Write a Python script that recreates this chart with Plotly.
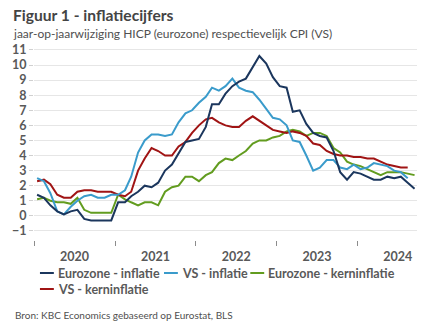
import plotly.graph_objects as go

# Monthly year-on-year inflation rates (%), January 2020 onwards
months = [f"{y}-{m:02d}-15" for y in range(2020, 2025) for m in range(1, 13)]

ez_inflatie = [
    1.4, 1.2, 0.7, 0.3, 0.1, 0.3, 0.4, -0.2, -0.3, -0.3, -0.3, -0.3,
    0.9, 0.9, 1.3, 1.6, 2.0, 1.9, 2.2, 3.0, 3.4, 4.1, 4.9, 5.0,
    5.1, 5.9, 7.4, 7.4, 8.1, 8.6, 8.9, 9.1, 9.9, 10.6, 10.1, 9.2,
    8.6, 8.5, 6.9, 7.0, 6.1, 5.5, 5.3, 5.2, 4.3, 2.9, 2.4, 2.9,
    2.8, 2.6, 2.4, 2.4, 2.6, 2.5, 2.6, 2.2, 1.8,
]
vs_inflatie = [
    2.5, 2.3, 1.5, 0.3, 0.1, 0.6, 1.0, 1.3, 1.4, 1.2, 1.2, 1.4,
    1.4, 1.7, 2.6, 4.2, 5.0, 5.4, 5.4, 5.3, 5.4, 6.2, 6.8, 7.0,
    7.5, 7.9, 8.5, 8.3, 8.6, 9.1, 8.5, 8.3, 8.2, 7.7, 7.1, 6.5,
    6.4, 6.0, 5.0, 4.9, 4.0, 3.0, 3.2, 3.7, 3.7, 3.2, 3.1, 3.4,
    3.1, 3.2, 3.5, 3.4, 3.3, 3.0, 2.9, 2.5,
]
ez_kern = [
    1.1, 1.2, 1.0, 0.9, 0.9, 0.8, 1.2, 0.4, 0.2, 0.2, 0.2, 0.2,
    1.4, 1.1, 0.9, 0.7, 0.9, 0.9, 0.7, 1.6, 1.9, 2.0, 2.6, 2.6,
    2.3, 2.7, 2.9, 3.5, 3.8, 3.7, 4.0, 4.3, 4.8, 5.0, 5.0, 5.2,
    5.3, 5.6, 5.7, 5.6, 5.3, 5.5, 5.5, 5.3, 4.5, 4.2, 3.6, 3.4,
    3.3, 3.1, 2.9, 2.7, 2.9, 2.9, 2.9, 2.8, 2.7,
]
vs_kern = [
    2.3, 2.4, 2.1, 1.4, 1.2, 1.2, 1.6, 1.7, 1.7, 1.6, 1.6, 1.6,
    1.4, 1.3, 1.6, 3.0, 3.8, 4.5, 4.3, 4.0, 4.0, 4.6, 4.9, 5.5,
    6.0, 6.4, 6.5, 6.2, 6.0, 5.9, 5.9, 6.3, 6.6, 6.3, 6.0, 5.7,
    5.6, 5.5, 5.6, 5.5, 5.3, 4.8, 4.7, 4.3, 4.1, 4.0, 4.0, 3.9,
    3.9, 3.8, 3.8, 3.6, 3.4, 3.3, 3.2, 3.2,
]

series_names = [
    "Eurozone - inflatie",
    "VS - inflatie",
    "Eurozone - kerninflatie",
    "VS - kerninflatie",
]
series_values = [ez_inflatie, vs_inflatie, ez_kern, vs_kern]
series_colors = ["#1b365d", "#3a9bcb", "#629c1f", "#a01414"]
# draw order: later traces on top
draw_order = [2, 3, 1, 0]

y_ticks = list(range(-1, 12))

TEXT = "#595959"
FONT = "Lato, 'Noto Sans', sans-serif"

fig = go.Figure()
for i in draw_order:
    vals = series_values[i]
    fig.add_trace(go.Scatter(
        x=months[:len(vals)], y=vals, mode="lines",
        name=series_names[i],
        line=dict(color=series_colors[i], width=2),
        showlegend=False,
    ))

W, H = 432, 334
ml, mr, mt, mb = 31, 15, 45, 94
pw, ph = W - ml - mr, H - mt - mb


def px(x):
    return (x - ml) / pw


def py(y):
    return (H - mb - y) / ph


annotations = [
    dict(text="<b>Figuur 1 - inflatiecijfers</b>", x=px(8), y=py(15),
         font=dict(size=15.6, color="#444444")),
    dict(text="jaar-op-jaarwijziging HICP (eurozone) respectievelijk CPI (VS)",
         x=px(8), y=py(33), font=dict(size=12, color="#505050")),
    dict(text="Bron: KBC Economics gebaseerd op Eurostat, BLS",
         x=px(10), y=py(315), font=dict(size=10, color="#505050")),
]
shapes = []

# legend entries laid out in two rows
legend_pos = [(37, 273), (162, 273), (249, 273), (37, 289)]
for i, (lx, ly) in enumerate(legend_pos):
    shapes.append(dict(type="line", xref="paper", yref="paper",
                       x0=px(lx), x1=px(lx + 14), y0=py(ly), y1=py(ly),
                       line=dict(color=series_colors[i], width=2)))
    annotations.append(dict(text=f"<b>{series_names[i]}</b>",
                            x=px(lx + 16), y=py(ly),
                            font=dict(size=12.5, color=TEXT)))

for a in annotations:
    a.update(xref="paper", yref="paper", xanchor="left", yanchor="middle",
             showarrow=False, font=dict(family=FONT, **a["font"]))

fig.update_layout(
    width=W, height=H,
    margin=dict(l=ml, r=mr, t=mt, b=mb),
    paper_bgcolor="white", plot_bgcolor="white",
    font=dict(family=FONT, color=TEXT, size=12),
    annotations=annotations, shapes=shapes,
    showlegend=False,
)
fig.update_xaxes(
    type="date",
    range=["2020-01-01", "2024-09-26"],
    dtick="M12", tick0="2020-01-01", tickformat="%Y",
    ticklabelmode="period",
    ticks="outside", ticklen=5, tickcolor="#8c8c8c", tickwidth=1,
    showgrid=False, showline=False, zeroline=False,
    tickfont=dict(size=12.5, color=TEXT, family=FONT, weight="bold"),
)
fig.update_yaxes(
    range=[-1.6, -1.6 + ph / 15.083],
    tickvals=y_ticks,
    ticks="outside", ticklen=4, tickcolor="#d0d0d0",
    showgrid=True, gridcolor="#e6e6e6", gridwidth=1,
    zeroline=False, showline=False,
    tickfont=dict(size=12.5, color=TEXT, family=FONT, weight="bold"),
)

fig.write_html("out.html")
